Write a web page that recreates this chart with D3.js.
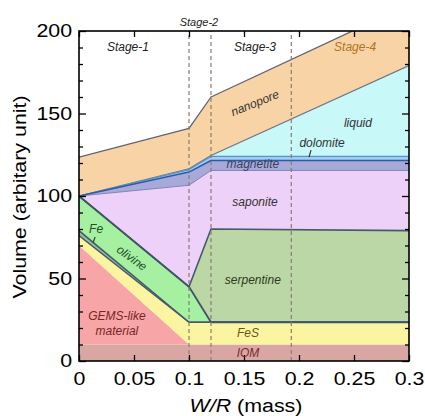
<!DOCTYPE html>
<html>
<head>
<meta charset="utf-8">
<script src="https://cdn.jsdelivr.net/npm/d3@7"></script>
<style>
  body { margin: 0; background: #fff; }
  svg { display: block; font-family: "Liberation Sans", Arial, Helvetica, sans-serif; }
</style>
</head>
<body>
<svg width="425" height="416"></svg>
<script>
// W/R (mass) positions where the layer boundaries change slope
var wr = [0, 0.1, 0.12, 0.3];

// cumulative top of each layer (volume, arbitary unit), bottom to top
var base          = [0, 0, 0, 0];
var iomTop        = [10, 10, 10, 10];
var gemsTop       = [70, 10, 10, 10];
var fesTop        = [76, 23.5, 23.5, 23.5];
var feTop         = [79, 23.5, 23.5, 23.5];
var olivineTop    = [100, 45, 23.5, 23.5];
var serpentineTop = [100, 45, 80, 79];
var saponiteTop   = [100, 106.5, 115.5, 115.5];
var magnetiteTop  = [100, 114.5, 121.5, 121.5];
var dolomiteTop   = [100, 116, 124, 124];
var liquidTop     = [100, 116.5, 124.5, 179];
var nanoporeTop   = [123.5, 141, 160, 216];

// stage boundaries and axis ticks
var stageBounds = [0.1, 0.12, 0.193];
var xTicks = [0, 0.05, 0.1, 0.15, 0.2, 0.25, 0.3];
var yTicks = [0, 50, 100, 150, 200];
var yMinor = [10, 20, 30, 40, 60, 70, 80, 90, 110, 120, 130, 140, 160, 170, 180, 190];

var svg = d3.select("svg"),
  margin = { top: 31, right: 16, bottom: 55, left: 79 },
  width = +svg.attr("width") - margin.left - margin.right,
  height = +svg.attr("height") - margin.top - margin.bottom;

var x = d3.scaleLinear().domain([0, 0.3]).range([margin.left, margin.left + width]);
var y = d3.scaleLinear().domain([0, 200]).range([margin.top + height, margin.top]);

svg.append("clipPath").attr("id", "plot")
  .append("rect")
  .attr("x", x(0)).attr("y", y(200))
  .attr("width", width).attr("height", height);

// layers: lower boundary, upper boundary, fill
var layers = [
  { lo: base, hi: iomTop, fill: "#d9a7a3" },
  { lo: iomTop, hi: gemsTop, fill: "#f7a5a7" },
  { lo: gemsTop, hi: fesTop, fill: "#fbf4a0" },
  { lo: fesTop, hi: feTop, fill: "#8fc49a" },
  { lo: feTop, hi: olivineTop, fill: "#a6f0a2" },
  { lo: olivineTop, hi: serpentineTop, fill: "#bbd7a6" },
  { lo: serpentineTop, hi: saponiteTop, fill: "#eed1f8" },
  { lo: saponiteTop, hi: magnetiteTop, fill: "#a7aad8" },
  { lo: magnetiteTop, hi: dolomiteTop, fill: "#a2cdf0" },
  { lo: dolomiteTop, hi: liquidTop, fill: "#c8f8f8" },
  { lo: liquidTop, hi: nanoporeTop, fill: "#f8d3a6" }
];

var idx = d3.range(wr.length);
var g = svg.append("g").attr("clip-path", "url(#plot)");

layers.forEach(function (l) {
  var area = d3.area()
    .x((i) => x(wr[i]))
    .y0((i) => y(l.lo[i]))
    .y1((i) => y(l.hi[i]));
  g.append("path").attr("d", area(idx)).attr("fill", l.fill);
});

// boundary lines
var borders = [
  { v: saponiteTop, stroke: "#7f84b8", w: 1 },
  { v: liquidTop, stroke: "#6d7485", w: 1.2 },
  { v: dolomiteTop, stroke: "#4f95d6", w: 1.2 },
  { v: magnetiteTop, stroke: "#2f5ba3", w: 1.5 },
  { v: nanoporeTop, stroke: "#5f6272", w: 1.3 },
  { v: serpentineTop, stroke: "#46586a", w: 1.6 },
  { v: fesTop, stroke: "#46586a", w: 1.5 },
  { v: feTop, stroke: "#46586a", w: 1.5 },
  { v: olivineTop, stroke: "#3f5466", w: 1.8 }
];

borders.forEach(function (b) {
  var line = d3.line().x((i) => x(wr[i])).y((i) => y(b.v[i]));
  g.append("path").attr("d", line(idx))
    .attr("fill", "none").attr("stroke", b.stroke)
    .attr("stroke-width", b.w).attr("stroke-linejoin", "round");
});

// stage dividers
svg.selectAll(".stage")
  .data(stageBounds)
  .enter()
  .append("line")
  .attr("x1", (d) => x(d)).attr("x2", (d) => x(d))
  .attr("y1", y(0)).attr("y2", y(200))
  .attr("stroke", "#8a7c70").attr("stroke-width", 1.2)
  .attr("stroke-dasharray", "4,3");

// axes: ticks point inward, labels on left and bottom only
var stretch = "scale(1.15,1)";
function styleAxis(sel) {
  sel.select(".domain").remove();
  sel.selectAll(".tick line").attr("stroke", "#000").attr("stroke-width", 1.3);
}

svg.append("g")
  .attr("transform", "translate(0," + y(0) + ")")
  .call(d3.axisBottom(x).tickValues(xTicks).tickSizeInner(-6).tickSizeOuter(0).tickPadding(11).tickFormat(d3.format("~g")))
  .call(styleAxis)
  .selectAll("text")
  .attr("font-size", 18.6).attr("font-family", null).attr("fill", "#000")
  .attr("transform", stretch);

svg.append("g")
  .attr("transform", "translate(" + x(0) + ",0)")
  .call(d3.axisLeft(y).tickValues(yTicks).tickSizeInner(-7).tickSizeOuter(0).tickPadding(6))
  .call(styleAxis)
  .selectAll("text")
  .attr("font-size", 18.6).attr("font-family", null).attr("fill", "#000")
  .attr("transform", stretch);

svg.append("g")
  .attr("transform", "translate(" + x(0) + ",0)")
  .call(d3.axisLeft(y).tickValues(yMinor).tickSizeInner(-4).tickSizeOuter(0).tickFormat(""))
  .call(styleAxis);

svg.append("g")
  .attr("transform", "translate(" + x(0.3) + ",0)")
  .call(d3.axisRight(y).tickValues(yTicks).tickSizeInner(-7).tickSizeOuter(0).tickFormat(""))
  .call(styleAxis);

svg.append("g")
  .attr("transform", "translate(" + x(0.3) + ",0)")
  .call(d3.axisRight(y).tickValues(yMinor).tickSizeInner(-4).tickSizeOuter(0).tickFormat(""))
  .call(styleAxis);

svg.append("g")
  .attr("transform", "translate(0," + y(200) + ")")
  .call(d3.axisTop(x).tickValues(xTicks).tickSizeInner(-6).tickSizeOuter(0).tickFormat(""))
  .call(styleAxis);

// frame
svg.append("rect")
  .attr("x", x(0)).attr("y", y(200))
  .attr("width", width).attr("height", height)
  .attr("fill", "none").attr("stroke", "#000").attr("stroke-width", 1.6);

// axis titles
svg.append("text")
  .attr("transform", "translate(20," + 197 + ") rotate(-90) scale(1.15,1)")
  .attr("text-anchor", "middle").attr("dominant-baseline", "central")
  .attr("font-size", 18.6)
  .text("Volume (arbitary unit)");

var xt = svg.append("text")
  .attr("transform", "translate(246,412) scale(1.15,1)")
  .attr("text-anchor", "middle").attr("font-size", 18.6);
xt.append("tspan").attr("font-style", "italic").text("W/R");
xt.append("tspan").text(" (mass)");

// annotations
var notes = [
  { t: "Stage-1", x: 0.0445, y: 190.3, c: "#222" },
  { t: "Stage-2", x: 0.109, y: 205.5, c: "#222", s: 11 },
  { t: "Stage-3", x: 0.16, y: 190.3, c: "#222" },
  { t: "Stage-4", x: 0.251, y: 190.3, c: "#b27422" },
  { t: "nanopore", x: 0.16, y: 156.4, c: "#333", r: -22 },
  { t: "liquid", x: 0.2536, y: 144.2, c: "#333" },
  { t: "dolomite", x: 0.221, y: 132, c: "#333" },
  { t: "magnetite", x: 0.158, y: 119.4, c: "#3a3d5a" },
  { t: "saponite", x: 0.16, y: 96.4, c: "#333" },
  { t: "serpentine", x: 0.158, y: 49, c: "#2e3a22" },
  { t: "FeS", x: 0.1536, y: 17, c: "#6a5818" },
  { t: "IOM", x: 0.1536, y: 4.8, c: "#7a2a2a" },
  { t: "GEMS-like", x: 0.0345, y: 27.3, c: "#7a2424" },
  { t: "material", x: 0.0345, y: 18.2, c: "#7a2424" },
  { t: "olivine", x: 0.048, y: 62.4, c: "#22502a", r: 36 },
  { t: "Fe", x: 0.0155, y: 80, c: "#22502a" }
];

svg.selectAll(".note")
  .data(notes)
  .enter()
  .append("text")
  .attr("transform", (d) => "translate(" + x(d.x) + "," + y(d.y) + ") rotate(" + (d.r || 0) + ")")
  .attr("text-anchor", "middle").attr("dominant-baseline", "central")
  .attr("font-size", (d) => d.s || 12).attr("font-style", "italic")
  .attr("fill", (d) => d.c)
  .text((d) => d.t);

// small leader ticks for Fe and dolomite
svg.append("line")
  .attr("x1", x(0.0155) - 1).attr("y1", y(80) + 8)
  .attr("x2", x(0.0155) - 3).attr("y2", y(80) + 14)
  .attr("stroke", "#22502a").attr("stroke-width", 1.2);
svg.append("line")
  .attr("x1", x(0.21) + 1).attr("y1", y(132) + 7)
  .attr("x2", x(0.21) - 1).attr("y2", y(132) + 14)
  .attr("stroke", "#333").attr("stroke-width", 1.2);
</script>
</body>
</html>
